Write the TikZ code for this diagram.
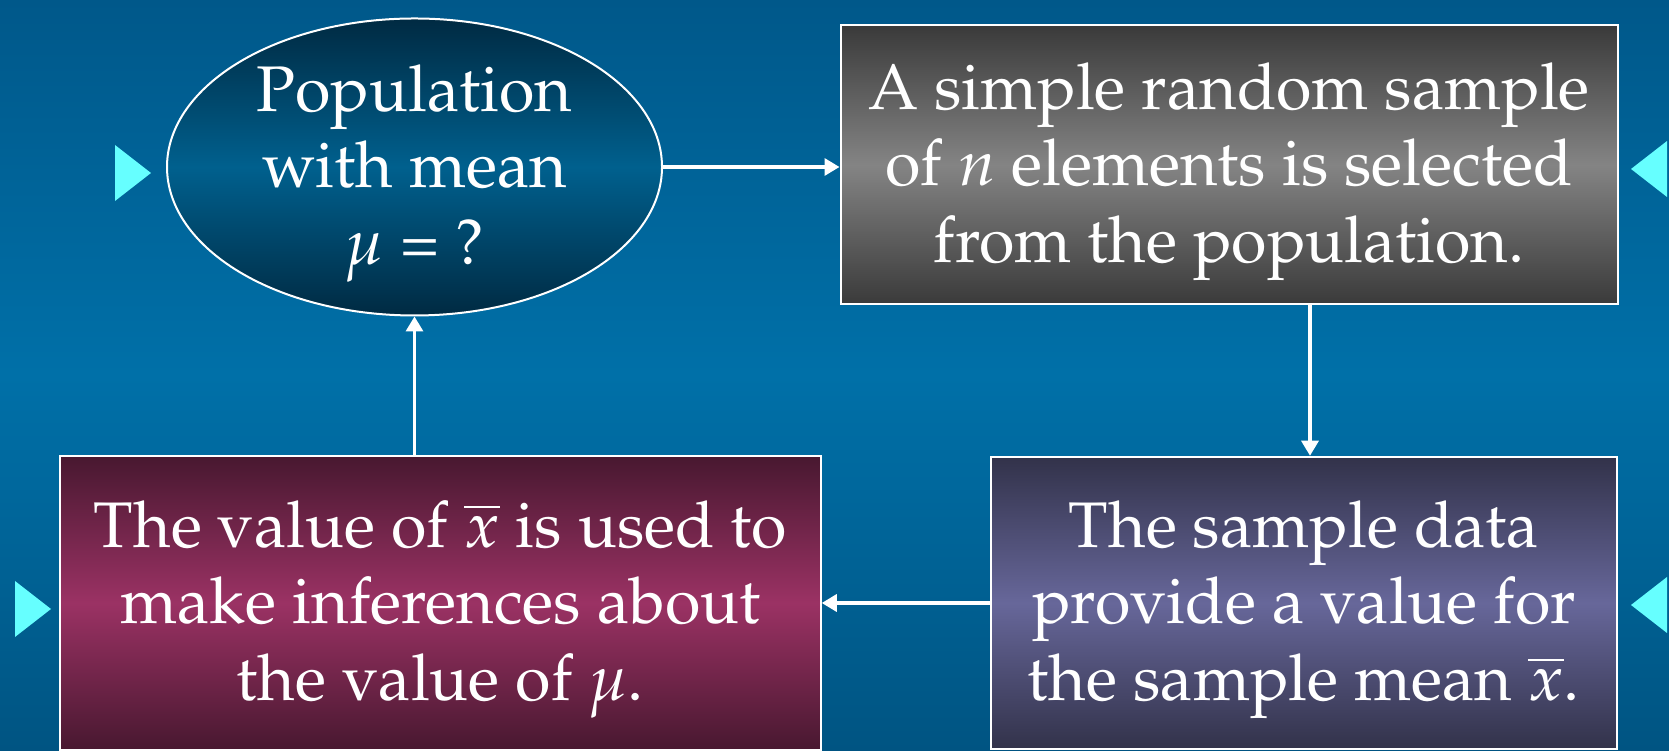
\documentclass[tikz,border=0pt]{standalone}
\usepackage[T1]{fontenc}
\usepackage{mathpazo}
\usetikzlibrary{shapes.geometric,arrows.meta}
\definecolor{bgTop}{RGB}{0,88,138}
\definecolor{bgMid}{RGB}{0,112,168}
\definecolor{bgBot}{RGB}{0,84,130}
\definecolor{popDark}{RGB}{0,42,66}
\definecolor{popMid}{RGB}{0,96,142}
\definecolor{grayDark}{RGB}{58,58,58}
\definecolor{grayMid}{RGB}{132,132,132}
\definecolor{redDark}{RGB}{72,24,48}
\definecolor{redMid}{RGB}{155,50,100}
\definecolor{purpDark}{RGB}{50,50,74}
\definecolor{purpMid}{RGB}{103,103,154}
\definecolor{markCyan}{RGB}{102,255,255}
\tikzset{
  box/.style={draw=white, line width=0.04cm, inner sep=0pt},
  boxtext/.style={text=white, align=center, inner sep=0pt, yshift=-0.13cm,
    font=\fontsize{36.7}{43.6}\selectfont},
  flow/.style={draw=white, line width=0.066cm,
    -{Triangle[length=0.3cm,width=0.34cm]}},
  marker/.style={fill=markCyan}
}

\begin{document}
\begin{tikzpicture}
  % background
  \shade[top color=bgTop, bottom color=bgBot, middle color=bgMid]
    (0,0) rectangle (33.38,15.02);
  \useasboundingbox (0,0) rectangle (33.38,15.02);

  % the four steps
  \node[box, ellipse, minimum width=9.9cm, minimum height=5.94cm,
    top color=popDark, bottom color=popDark, middle color=popMid,
    label={[boxtext]center:Population\\with mean\\$\mu$ = ?}]
    (pop) at (8.29,11.68) {};
  \node[box, rectangle, minimum width=15.54cm, minimum height=5.58cm,
    top color=grayDark, bottom color=grayDark, middle color=grayMid,
    label={[boxtext]center:A simple random sample\\of $n$ elements is selected\\from the population.}]
    (sample) at (24.58,11.72) {};
  \node[box, rectangle, minimum width=12.53cm, minimum height=5.85cm,
    top color=purpDark, bottom color=purpDark, middle color=purpMid,
    label={[boxtext]center:The sample data\\provide a value for\\the sample mean $\overline{x}$.}]
    (data) at (26.08,2.96) {};
  \node[box, rectangle, minimum width=15.21cm, minimum height=5.88cm,
    top color=redDark, bottom color=redDark, middle color=redMid,
    label={[boxtext]center:The value of $\overline{x}$ is used to\\make inferences about\\the value of $\mu$.}]
    (infer) at (8.81,2.96) {};

  % connectors
  \draw[flow] (pop.east) -- (pop.east -| sample.west);
  \draw[flow] ([xshift=0.12cm]data.north |- sample.south) -- ([xshift=0.12cm]data.north);
  \draw[flow] (data.west) -- (data.west -| infer.east);
  \draw[flow] (infer.north -| pop.south) -- (pop.south);

  % side markers
  \fill[marker] (2.3,12.12) -- (2.3,11.0) -- (3.02,11.56) -- cycle;
  \fill[marker] (33.34,12.2) -- (33.34,11.08) -- (32.62,11.64) -- cycle;
  \fill[marker] (0.3,3.4) -- (0.3,2.28) -- (1.02,2.84) -- cycle;
  \fill[marker] (33.34,3.48) -- (33.34,2.36) -- (32.62,2.92) -- cycle;
\end{tikzpicture}
\end{document}
